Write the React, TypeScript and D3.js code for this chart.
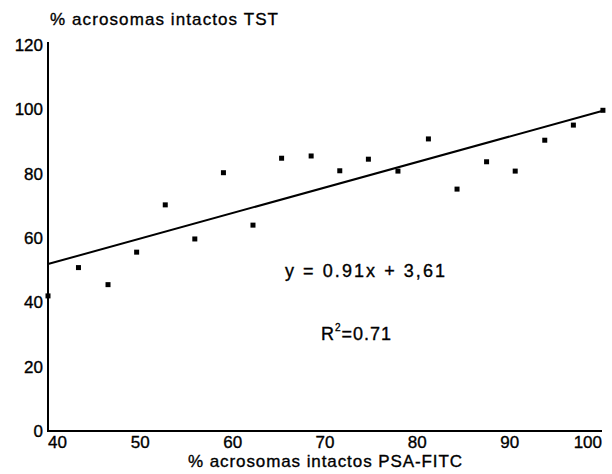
import React from "react";
import * as d3 from "d3";

// % acrosomas intactos PSA-FITC (x) vs TST (y)
const psaFitc = [40.0, 43.3, 46.5, 49.6, 52.7, 55.9, 59.0, 62.2, 65.3, 68.5, 71.6, 74.7, 77.9, 81.2, 84.3, 87.5, 90.6, 93.8, 96.9, 100.1];
const tst = [42.0, 50.8, 45.5, 55.6, 70.3, 59.7, 80.3, 64.0, 84.8, 85.5, 80.9, 84.5, 80.8, 90.8, 75.2, 83.7, 80.8, 90.4, 95.1, 99.7];

// fitted line as drawn
const fitX = [40, 100];
const fitY = [51.9, 99.5];

const xTicks = [40, 50, 60, 70, 80, 90, 100];
const yTicks = [0, 20, 40, 60, 80, 100, 120];

const font = "'Liberation Sans', Arial, Helvetica, sans-serif";

const App = () => {
  const width = 612;
  const height = 474;

  const x = d3.scaleLinear().domain([40, 100]).range([48, 602]);
  const y = d3.scaleLinear().domain([0, 120]).range([431, 45]);

  const line = d3
    .line<number>()
    .x((d) => x(d))
    .y((_, i) => y(fitY[i]));

  const ink = { stroke: "#000", strokeWidth: 0.35 };

  return (
    <svg
      width={width}
      height={height}
      style={{ position: "absolute", left: 0, top: 0, background: "#fff" }}
      fontFamily={font}
    >
      <text x={50} y={25} fontSize={17} textLength={228} lengthAdjust="spacing" {...ink}>
        % acrosomas intactos TST
      </text>

      {/* axes */}
      <line x1={x(40)} x2={x(40)} y1={42} y2={y(0)} stroke="#000" strokeWidth={2} />
      <line x1={x(40) - 1} x2={x(100)} y1={y(0)} y2={y(0)} stroke="#000" strokeWidth={2} />

      {yTicks.map((t) => (
        <text key={t} x={43} y={y(t)} dy="0.35em" fontSize={17} textAnchor="end" {...ink}>
          {t}
        </text>
      ))}
      {xTicks.map((t, i) => (
        <text
          key={t}
          x={x(t)}
          y={448}
          fontSize={17}
          textAnchor={i === 0 ? "start" : i === xTicks.length - 1 ? "end" : "middle"}
          {...ink}
        >
          {t}
        </text>
      ))}

      <text x={188} y={467} fontSize={17} textLength={274} lengthAdjust="spacing" {...ink}>
        % acrosomas intactos PSA-FITC
      </text>

      <path d={line(fitX) || ""} fill="none" stroke="#000" strokeWidth={2} />

      {psaFitc.map((v, i) => (
        <rect
          key={i}
          x={x(v) - 2.5}
          y={y(tst[i]) - 2.5}
          width={5}
          height={5}
          fill="#000"
        />
      ))}

      <text x={285} y={277} fontSize={18} textLength={160} lengthAdjust="spacing" {...ink}>
        y = 0.91x + 3,61
      </text>
      <text x={321} y={340} fontSize={18} letterSpacing={1} {...ink}>
        R
        <tspan fontSize={10} dy={-9}>
          2
        </tspan>
        <tspan dy={9}>=0.71</tspan>
      </text>
    </svg>
  );
};

export default App;
